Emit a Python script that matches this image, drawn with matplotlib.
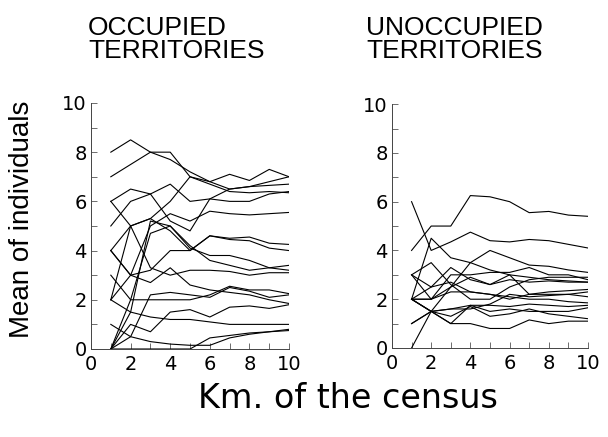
import numpy as np
import matplotlib
matplotlib.use('Agg')
import matplotlib.pyplot as plt
from matplotlib import font_manager
from matplotlib.ticker import MultipleLocator

# census points (km)
km = [1, 2, 3, 4, 5, 6, 7, 8, 9, 10]

# mean of individuals per transect, occupied territories
occupied = [
    [8.0, 8.5, 8.0, 7.7, 7.2, 6.8, 6.5, 6.6, 6.8, 7.0],
    [7.0, 7.5, 8.0, 8.0, 7.0, 6.8, 7.1, 6.85, 7.3, 7.0],
    [6.0, 6.5, 6.3, 6.7, 6.0, 6.1, 6.0, 6.0, 6.3, 6.4],
    [5.0, 6.0, 6.3, 5.2, 4.8, 6.1, 6.5, 6.6, 6.65, 6.7],
    [2.0, 5.0, 5.3, 6.0, 7.0, 6.7, 6.4, 6.35, 6.4, 6.35],
    [4.0, 3.0, 5.0, 5.5, 5.2, 5.6, 5.5, 5.45, 5.5, 5.55],
    [6.0, 5.0, 3.3, 3.0, 3.2, 3.2, 3.15, 3.0, 3.1, 3.1],
    [4.0, 5.0, 5.3, 4.8, 4.0, 4.6, 4.5, 4.55, 4.3, 4.25],
    [0.0, 2.0, 4.7, 5.0, 4.1, 3.8, 3.8, 3.6, 3.3, 3.2],
    [2.0, 3.0, 3.2, 4.0, 4.0, 4.6, 4.45, 4.4, 4.1, 4.0],
    [0.0, 1.5, 5.2, 5.0, 4.2, 3.6, 3.4, 3.2, 3.3, 3.4],
    [3.0, 2.0, 2.0, 2.0, 2.0, 2.2, 2.55, 2.4, 2.4, 2.25],
    [4.0, 3.0, 2.7, 3.3, 2.6, 2.4, 2.3, 2.2, 2.0, 1.85],
    [2.0, 1.5, 1.3, 1.2, 1.2, 1.1, 1.0, 1.0, 1.0, 1.0],
    [0.0, 0.5, 2.2, 2.3, 2.2, 2.1, 2.5, 2.35, 2.1, 2.2],
    [0.0, 1.0, 0.7, 1.5, 1.6, 1.3, 1.7, 1.75, 1.65, 1.8],
    [1.0, 0.5, 0.3, 0.2, 0.15, 0.15, 0.45, 0.6, 0.7, 0.75],
    [0.0, 0.0, 0.0, 0.0, 0.0, 0.45, 0.55, 0.65, 0.7, 0.8],
]

# mean of individuals per transect, unoccupied territories
unoccupied = [
    [4.0, 5.0, 5.0, 6.25, 6.2, 6.0, 5.55, 5.6, 5.45, 5.4],
    [6.0, 4.0, 4.35, 4.75, 4.4, 4.35, 4.45, 4.4, 4.25, 4.1],
    [2.0, 4.5, 3.7, 3.5, 3.2, 3.0, 2.9, 2.8, 2.75, 2.7],
    [0.0, 1.5, 2.5, 3.5, 4.0, 3.7, 3.4, 3.35, 3.2, 3.1],
    [3.0, 3.5, 2.6, 2.0, 2.0, 2.5, 2.8, 2.9, 2.9, 2.9],
    [3.0, 2.5, 3.3, 2.8, 2.6, 2.8, 2.7, 2.75, 2.7, 2.7],
    [2.0, 2.0, 3.0, 3.0, 3.1, 3.1, 3.3, 3.0, 3.0, 2.8],
    [2.0, 2.5, 2.7, 2.3, 2.2, 2.0, 2.2, 2.3, 2.35, 2.4],
    [1.0, 1.5, 1.0, 1.0, 0.8, 0.8, 1.15, 1.0, 1.1, 1.1],
    [2.0, 1.5, 1.3, 1.7, 1.3, 1.4, 1.6, 1.4, 1.3, 1.2],
    [2.0, 1.5, 1.6, 1.6, 1.8, 2.2, 2.1, 2.15, 2.2, 2.3],
    [1.0, 1.5, 1.6, 1.75, 1.75, 1.7, 1.8, 1.75, 1.7, 1.75],
    [3.0, 2.0, 2.3, 2.3, 2.2, 2.1, 2.0, 2.0, 1.9, 1.85],
    [2.0, 1.5, 1.0, 1.75, 1.5, 1.6, 1.5, 1.5, 1.5, 1.65],
    [2.0, 2.0, 2.5, 2.9, 2.6, 3.0, 2.2, 2.2, 2.2, 2.1],
]

titles = [('OCCUPIED', 'TERRITORIES'), ('UNOCCUPIED', 'TERRITORIES')]

names = {f.name for f in font_manager.fontManager.ttflist}
if 'Liberation Sans Narrow' in names:
    ylab_font, ylab_size = 'Liberation Sans Narrow', 24
else:
    ylab_font, ylab_size = 'Liberation Sans', 20

fig = plt.figure(figsize=(6.08, 4.37), dpi=100)
ax1 = fig.add_axes([0.1497, 0.2014, 0.3257, 0.563])
ax2 = fig.add_axes([0.6447, 0.2037, 0.3224, 0.558])

for ax, series in [(ax1, occupied), (ax2, unoccupied)]:
    for ys in series:
        ax.plot(km, ys, color='black', lw=0.8)
    ax.set_xlim(0, 10)
    ax.set_ylim(0, 10)
    ax.xaxis.set_major_locator(MultipleLocator(2))
    ax.xaxis.set_minor_locator(MultipleLocator(1))
    ax.yaxis.set_major_locator(MultipleLocator(2))
    ax.yaxis.set_minor_locator(MultipleLocator(1))
    ax.tick_params(which='both', direction='in', width=0.6, color='#555555')
    ax.tick_params(which='major', length=4, labelsize=14, pad=3)
    ax.tick_params(which='minor', length=4)
    ax.tick_params(axis='x', pad=4)
    for lab in ax.get_xticklabels() + ax.get_yticklabels():
        lab.set_fontfamily('DejaVu Sans')
    for side in ['top', 'right']:
        ax.spines[side].set_visible(False)
    for side in ['left', 'bottom']:
        ax.spines[side].set_linewidth(0.7)
        ax.spines[side].set_color('#444444')

# panel headings, two lines each
for x0, (line1, line2) in zip([0.145, 0.602], titles):
    fig.text(x0, 0.920, line1, fontfamily='Liberation Sans', fontsize=19,
             ha='left', va='baseline')
    fig.text(x0, 0.867, line2, fontfamily='Liberation Sans', fontsize=19,
             ha='left', va='baseline')

fig.text(0.036, 0.497, 'Mean of individuals', rotation=90, fontfamily=ylab_font,
         fontsize=ylab_size, ha='center', va='center')
fig.text(0.5716, 0.088, 'Km. of the census', fontfamily='DejaVu Sans',
         fontsize=24, ha='center', va='center')

fig.savefig('out.png', dpi=100)
